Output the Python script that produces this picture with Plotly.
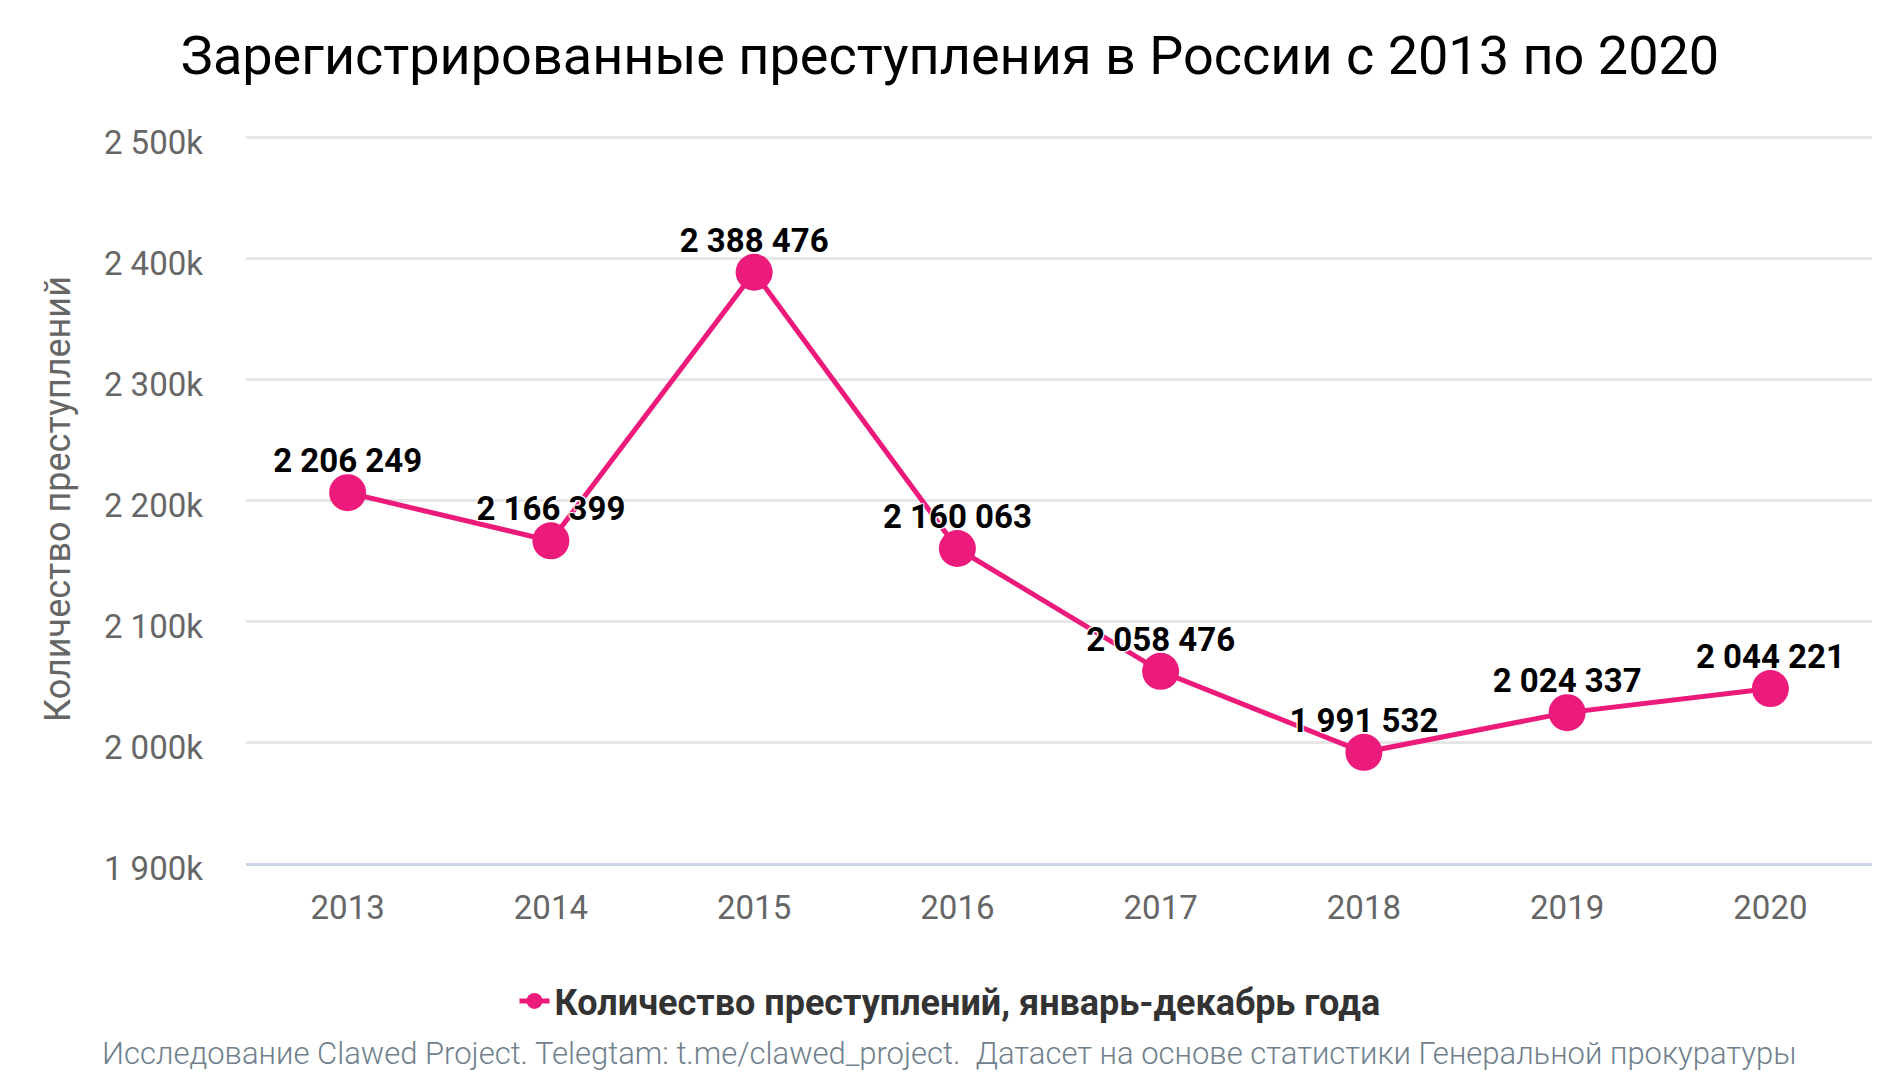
import plotly.graph_objects as go

years = ["2013", "2014", "2015", "2016", "2017", "2018", "2019", "2020"]
crimes = [2206249, 2166399, 2388476, 2160063, 2058476, 1991532, 2024337, 2044221]
y_ticks = [1900000, 2000000, 2100000, 2200000, 2300000, 2400000, 2500000]

title_text = "Зарегистрированные преступления в России с 2013 по 2020"
series_name = "Количество преступлений, январь-декабрь года"
y_title = "Количество преступлений"
footer = ("Исследование Clawed Project. Telegtam: t.me/clawed_project.&nbsp;&nbsp;"
          "Датасет на основе статистики Генеральной прокуратуры")

def fmt_space(v):
    return f"{v:,}".replace(",", " ")

labels = [fmt_space(v) for v in crimes]
tick_text = [fmt_space(v // 1000) + "k" for v in y_ticks]

PINK = "#EC1A7B"
FONT = "Roboto"
SHADOW = "1px 1px 1px #fff, -1px -1px 1px #fff, 1px -1px 1px #fff, -1px 1px 1px #fff"

fig = go.Figure()
fig.add_trace(go.Scatter(
    x=years, y=crimes, name=series_name,
    mode="lines+markers",
    line=dict(color=PINK, width=5),
    marker=dict(color=PINK, size=37, line=dict(width=0)),
    cliponaxis=False,
    hoverinfo="x+y",
))
# data labels
fig.add_trace(go.Scatter(
    x=years, y=crimes, name="labels", showlegend=False,
    mode="markers+text",
    marker=dict(size=18, opacity=0),
    text=labels, textposition="top center",
    textfont=dict(family=FONT, size=33, color="#000000", weight="bold", shadow=SHADOW),
    cliponaxis=False,
    hoverinfo="skip",
))

fig.update_layout(
    width=1900, height=1080,
    paper_bgcolor="white", plot_bgcolor="white",
    margin=dict(l=246, r=28, t=135, b=217),
    font=dict(family=FONT, color="#666666"),
    title=dict(text=title_text, x=0.5, xref="container", xanchor="center",
               y=1 - 55 / 1080, yref="container", yanchor="middle",
               font=dict(family=FONT, size=54, color="#000000")),
    showlegend=True,
    legend=dict(orientation="h", xref="container", yref="container",
                x=0.5, xanchor="center", y=1 - 1001 / 1080, yanchor="middle",
                font=dict(family=FONT, size=36, color="#333333", weight="bold"),
                itemsizing="trace"),
    xaxis=dict(type="category", range=[-0.5, 7.5], showgrid=False,
               showline=True, linecolor="#ccd6eb", linewidth=3,
               ticks="", tickfont=dict(family=FONT, size=33, color="#666666"),
               ticklabelstandoff=13, zeroline=False),
    yaxis=dict(range=[1900000, 2502000], tickvals=y_ticks, ticktext=tick_text,
               showgrid=True, gridcolor="#e6e6e6", gridwidth=3,
               zeroline=False, showline=False, ticks="",
               tickfont=dict(family=FONT, size=33, color="#666666"),
               ticklabelstandoff=42, ticklabelshift=5,
               title=dict(text=y_title, standoff=22,
                          font=dict(family=FONT, size=36, color="#666666"))),
    annotations=[dict(text=footer, xref="paper", yref="paper",
                      x=(950 - 246) / 1628, y=(863 - 1053) / 728,
                      xanchor="center", yanchor="middle", showarrow=False,
                      font=dict(family=FONT, size=31, color="#6f808c", weight=300))],
)

fig.write_html("out.html")
